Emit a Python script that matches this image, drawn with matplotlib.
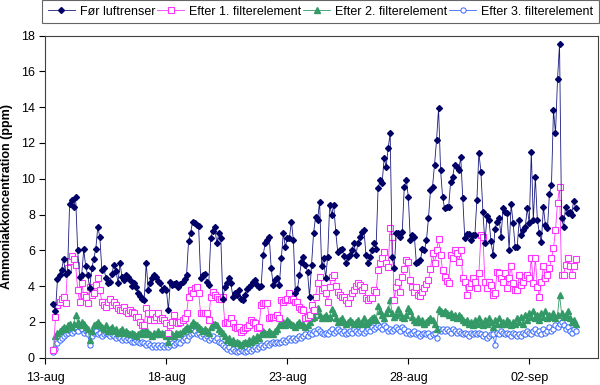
import matplotlib
matplotlib.use("Agg")
import matplotlib.pyplot as plt
import pandas as pd

plt.rcParams['font.family'] = ['Liberation Sans', 'DejaVu Sans']

# time axis: 2-hourly samples from 13 Aug 08:00
start_time = "2007-08-13 08:00"
n_points = 260
times = pd.date_range(start_time, periods=n_points, freq="2h")

series_names = ["Før luftrenser", "Efter 1. filterelement",
                "Efter 2. filterelement", "Efter 3. filterelement"]

foer = [
    3.0, 2.6, 4.4, 4.6, 4.9, 5.5, 4.7, 4.8, 8.6, 8.8,
    8.4, 8.95, 6.0, 4.5, 4.6, 6.05, 5.1, 4.6, 3.9, 5.0,
    5.5, 6.1, 7.3, 6.75, 4.9, 5.0, 4.45, 4.15, 4.25, 4.7,
    5.2, 4.85, 4.2, 5.3, 4.5, 4.35, 4.6, 4.5, 4.35, 4.0,
    4.2, 3.97, 3.6, 3.45, 3.3, 3.2, 5.3, 3.8, 4.15, 4.43,
    4.62, 4.5, 4.3, 4.15, 3.8, 3.9, 3.8, 2.66, 4.25, 4.05,
    4.1, 4.15, 3.97, 4.1, 4.25, 4.4, 4.62, 6.5, 6.95, 7.6,
    7.5, 7.4, 7.35, 4.43, 4.62, 4.7, 4.25, 4.05, 6.67, 7.1,
    7.3, 6.38, 6.95, 6.67, 3.3, 3.97, 4.2, 4.43, 4.15, 3.4,
    3.6, 3.5, 3.8, 3.3, 3.2, 3.5, 3.85, 3.97, 4.05, 4.25,
    4.33, 4.05, 3.97, 4.0, 5.74, 6.38, 6.58, 6.77, 5.0, 4.05,
    4.33, 4.43, 4.05, 5.55, 6.95, 6.2, 6.67, 6.67, 7.6, 6.58,
    3.6, 3.85, 4.6, 5.35, 5.6, 5.16, 4.8, 3.4, 5.16, 6.95,
    7.88, 7.7, 8.72, 5.1, 5.55, 4.43, 5.64, 8.53, 8.0, 8.53,
    7.04, 5.9, 6.0, 6.1, 5.7, 5.27, 5.64, 5.73, 6.0, 6.39,
    5.73, 6.4, 6.76, 7.04, 7.13, 5.73, 5.27, 5.64, 6.0, 6.39,
    6.1, 9.46, 9.93, 9.74, 11.14, 10.67, 11.7, 12.54, 5.64, 5.0,
    6.95, 6.95, 6.76, 7.04, 9.55, 9.93, 8.99, 6.57, 6.85, 6.76,
    5.27, 5.37, 5.46, 6.1, 6.0, 6.57, 7.79, 9.37, 9.55, 10.77,
    12.16, 13.93, 10.48, 8.99, 8.34, 8.43, 8.43, 9.83, 10.11, 10.77,
    10.63, 10.5, 11.2, 8.9, 6.67, 6.9, 6.9, 6.57, 6.85, 6.85,
    8.8, 11.45, 10.39, 8.15, 6.39, 7.9, 7.72, 6.5, 5.76, 7.2,
    7.6, 7.8, 6.77, 8.34, 8.15, 8.06, 6.02, 8.59, 7.5, 6.17,
    6.2, 7.69, 6.85, 7.13, 7.3, 8.34, 7.5, 11.5, 7.69, 10.11,
    7.69, 6.95, 6.48, 8.43, 7.41, 7.22, 9.17, 9.63, 13.84, 12.53,
    15.55, 17.53, 7.78, 7.32, 8.43, 8.06, 8.15, 7.97, 8.77, 8.34,
]

efter1 = [
    0.45, 2.25, 2.95, 3.1, 3.3, 3.4, 3.05, 5.0, 5.4, 5.7,
    5.5, 5.2, 3.8, 3.1, 4.15, 3.5, 3.4, 3.05, 3.95, 3.5,
    3.6, 4.05, 4.45, 3.8, 3.1, 2.95, 2.85, 3.1, 3.3, 2.95,
    3.1, 2.95, 2.8, 2.65, 2.65, 2.85, 2.6, 2.47, 2.66, 2.57,
    2.47, 2.3, 2.25, 2.0, 1.85, 1.83, 2.76, 2.47, 2.1, 2.47,
    2.1, 2.3, 2.47, 2.1, 2.2, 2.1, 1.92, 1.36, 1.83, 2.0,
    2.38, 2.0, 1.92, 2.0, 2.1, 2.2, 2.47, 3.4, 3.78, 3.6,
    3.87, 3.97, 3.6, 2.47, 2.47, 2.47, 2.47, 2.1, 3.4, 3.68,
    3.5, 3.4, 3.3, 3.3, 3.4, 1.92, 2.0, 1.92, 2.2, 1.92,
    1.74, 1.64, 1.74, 1.46, 1.55, 1.65, 1.74, 1.83, 2.1, 2.0,
    1.92, 1.64, 1.74, 2.95, 3.04, 3.04, 3.08, 2.2, 2.29, 2.29,
    2.29, 2.38, 2.2, 3.22, 3.13, 3.2, 3.3, 3.6, 3.22, 3.3,
    3.13, 3.13, 2.85, 2.7, 2.66, 2.2, 2.29, 2.38, 2.95, 2.66,
    3.4, 4.15, 4.52, 3.78, 3.87, 3.6, 3.13, 3.97, 4.5, 4.6,
    4.0, 3.68, 3.5, 3.41, 3.41, 3.22, 3.04, 3.41, 3.6, 3.78,
    4.0, 4.15, 4.06, 3.78, 3.97, 3.32, 3.22, 3.32, 3.32, 3.78,
    3.68, 4.89, 5.27, 5.55, 5.92, 5.27, 5.08, 7.23, 6.76, 3.22,
    3.97, 4.25, 3.68, 4.5, 4.98, 5.46, 5.36, 4.34, 3.97, 3.68,
    3.97, 3.5, 3.45, 3.69, 3.87, 4.1, 4.34, 4.98, 5.83, 5.27,
    6.0, 6.61, 5.73, 4.89, 4.52, 4.3, 4.15, 5.73, 5.55, 6.0,
    5.83, 5.36, 6.0, 4.43, 4.25, 3.5, 3.97, 4.2, 4.43, 4.25,
    3.87, 4.71, 6.86, 6.77, 4.25, 3.87, 4.25, 4.06, 3.5, 3.6,
    4.8, 4.71, 4.43, 4.25, 4.71, 3.9, 4.43, 5.15, 4.15, 3.78,
    3.78, 4.62, 4.06, 4.25, 4.52, 4.62, 4.43, 5.55, 4.15, 5.55,
    3.97, 3.41, 4.25, 5.12, 4.43, 4.62, 5.0, 5.55, 6.11, 7.13,
    8.66, 9.51, 4.62, 4.62, 5.18, 5.55, 5.12, 4.62, 5.12, 5.5,
]

efter2 = [
    0.5, 1.2, 1.4, 1.5, 1.6, 1.7, 1.6, 1.8, 1.9, 1.7,
    1.9, 2.4, 2.0, 1.8, 2.0, 1.9, 1.7, 1.6, 1.0, 1.5,
    1.8, 1.9, 2.0, 1.8, 1.7, 1.6, 1.8, 1.5, 1.6, 1.7,
    1.5, 1.6, 1.4, 1.5, 1.6, 1.4, 1.5, 1.4, 1.3, 1.4,
    1.3, 1.2, 1.3, 1.4, 1.5, 1.3, 1.6, 1.4, 1.3, 1.2,
    1.4, 1.3, 1.5, 1.3, 1.4, 1.3, 1.2, 0.9, 1.2, 1.3,
    1.2, 1.4, 1.3, 1.4, 1.5, 1.6, 1.7, 1.6, 1.8, 2.0,
    1.9, 1.8, 1.7, 1.6, 1.5, 1.6, 1.5, 1.4, 1.7, 1.9,
    1.9, 1.8, 1.6, 1.5, 1.4, 1.2, 1.0, 1.1, 0.9, 1.0,
    0.8, 0.9, 0.8, 0.7, 0.8, 0.9, 0.8, 1.0, 0.9, 1.1,
    1.0, 1.2, 1.1, 1.3, 1.5, 1.4, 1.3, 1.5, 1.4, 1.3,
    1.5, 1.6, 1.8, 1.9, 2.0, 1.8, 2.1, 2.0, 1.9, 1.8,
    1.7, 1.9, 2.0, 1.8, 1.9, 1.7, 1.8, 2.0, 2.2, 2.3,
    2.6, 2.8, 2.4, 2.2, 2.3, 2.4, 2.2, 2.3, 2.7, 2.5,
    2.2, 2.0, 2.1, 2.2, 2.0, 1.9, 2.0, 2.1, 2.0, 1.9,
    2.0, 2.1, 1.9, 2.0, 2.2, 1.9, 2.0, 2.1, 2.2, 2.3,
    2.1, 2.9, 2.6, 2.4, 2.2, 2.5, 2.7, 3.2, 2.5, 2.3,
    2.4, 2.7, 2.5, 2.3, 2.2, 2.4, 2.8, 2.6, 2.3, 2.1,
    2.0, 2.2, 2.0, 2.1, 1.9, 2.0, 2.1, 2.2, 2.1, 1.9,
    1.6, 2.7, 2.6, 2.5, 2.6, 2.5, 2.4, 2.5, 2.3, 2.4,
    2.2, 2.4, 2.3, 2.1, 2.0, 2.1, 1.9, 2.0, 1.8, 2.1,
    1.9, 2.2, 2.0, 1.8, 2.1, 1.9, 2.2, 2.0, 1.7, 2.1,
    1.9, 2.2, 1.9, 2.0, 1.9, 2.1, 2.0, 1.8, 2.0, 1.9,
    2.2, 2.0, 2.3, 1.9, 2.4, 2.1, 2.5, 2.3, 2.6, 2.2,
    2.4, 2.1, 2.5, 2.3, 2.6, 2.2, 2.4, 2.3, 2.5, 2.2,
    2.4, 3.5, 2.5, 2.3, 2.4, 2.6, 2.2, 2.0, 2.1, 1.9,
]

efter3 = [
    0.3, 0.5, 0.8, 1.0, 1.1, 1.2, 1.3, 1.4, 1.5, 1.4,
    1.5, 1.6, 1.5, 1.7, 1.6, 1.4, 1.5, 1.3, 0.7, 1.2,
    1.4, 1.5, 1.3, 1.4, 1.2, 1.3, 1.4, 1.3, 1.2, 1.3,
    1.2, 1.1, 1.2, 1.1, 1.0, 1.1, 1.0, 1.1, 1.0, 0.9,
    0.9, 1.0, 0.9, 0.8, 0.9, 0.8, 0.7, 0.8, 0.7, 0.6,
    0.7, 0.6, 0.7, 0.6, 0.7, 0.6, 0.7, 0.6, 0.7, 0.8,
    0.7, 0.8, 0.9, 0.8, 1.0, 1.1, 1.0, 1.2, 1.3, 1.4,
    1.5, 1.3, 1.4, 1.2, 1.3, 1.1, 1.2, 1.0, 1.1, 1.2,
    1.0, 1.1, 0.9, 0.8, 0.7, 0.6, 0.5, 0.6, 0.4, 0.5,
    0.4, 0.3, 0.4, 0.5, 0.4, 0.3, 0.4, 0.5, 0.4, 0.5,
    0.6, 0.5, 0.6, 0.7, 0.6, 0.7, 0.8, 0.7, 0.8, 0.9,
    0.8, 0.9, 0.8, 0.9, 1.0, 0.9, 1.0, 1.1, 1.0, 1.1,
    1.0, 1.1, 1.2, 1.1, 1.2, 1.3, 1.2, 1.4, 1.3, 1.5,
    1.4, 1.6, 1.5, 1.4, 1.3, 1.4, 1.3, 1.5, 1.6, 1.4,
    1.5, 1.6, 1.5, 1.4, 1.5, 1.3, 1.4, 1.5, 1.4, 1.6,
    1.5, 1.4, 1.5, 1.6, 1.4, 1.5, 1.6, 1.5, 1.7, 1.6,
    1.7, 1.8, 1.7, 1.6, 1.8, 1.7, 1.5, 1.6, 1.5, 1.6,
    1.7, 1.6, 1.5, 1.7, 1.6, 1.4, 1.5, 1.3, 1.4, 1.5,
    1.3, 1.4, 1.2, 1.3, 1.4, 1.3, 1.4, 1.2, 1.3, 1.4,
    1.1, 1.6, 1.5, 1.6, 1.5, 1.6, 1.5, 1.4, 1.6, 1.5,
    1.4, 1.5, 1.4, 1.3, 1.4, 1.3, 1.2, 1.4, 1.3, 1.4,
    1.3, 1.4, 1.3, 1.2, 1.3, 1.1, 1.2, 1.3, 1.3, 0.7,
    1.4, 1.3, 1.5, 1.4, 1.3, 1.4, 1.3, 1.2, 1.4, 1.3,
    1.2, 1.3, 1.2, 1.4, 1.3, 1.5, 1.4, 1.3, 1.5, 1.6,
    1.4, 1.5, 1.3, 1.6, 1.4, 1.5, 1.7, 1.5, 1.6, 1.8,
    1.7, 1.9, 2.0, 1.8, 1.6, 1.7, 1.5, 1.4, 1.6, 1.5,
]

tick_dates = ["2007-08-13", "2007-08-18", "2007-08-23", "2007-08-28", "2007-09-02"]
tick_labels = ["13-aug", "18-aug", "23-aug", "28-aug", "02-sep"]
y_ticks = [0, 2, 4, 6, 8, 10, 12, 14, 16, 18]
y_label = "Ammoniakkoncentration (ppm)"

fig = plt.figure(figsize=(6.0, 3.85), dpi=100)
ax = fig.add_axes([45.4 / 600, 1 - 357.7 / 385, (598 - 45.4) / 600, (357.7 - 35.5) / 385])

ax.plot(times, foer, color="#1A1A80", lw=0.6, marker="D", ms=3.0,
        mfc="#000066", mec="#000066", label=series_names[0], zorder=5)
ax.plot(times, efter1, color="#FF33FF", lw=0.6, marker="s", ms=4.0,
        mfc="white", mec="#FF33FF", mew=0.8, label=series_names[1], zorder=4)
ax.plot(times, efter2, color="#339966", lw=0.6, marker="^", ms=4.0,
        mfc="#339966", mec="#339966", label=series_names[2], zorder=3)
ax.plot(times, efter3, color="#3366FF", lw=0.6, marker="o", ms=3.8,
        mfc="white", mec="#3366FF", mew=0.7, label=series_names[3], zorder=2)

x0 = pd.Timestamp("2007-08-13 00:00")
ax.set_xlim(x0, x0 + pd.Timedelta(days=22.84))
ax.set_ylim(0, 18)
ax.set_yticks(y_ticks)
ax.set_xticks(pd.to_datetime(tick_dates))
ax.set_xticklabels(tick_labels)
ax.tick_params(direction="out", length=4, width=0.8, labelsize=9, colors="black")
ax.tick_params(axis="x", pad=6)
for s in ax.spines.values():
    s.set_color("#404040")
    s.set_linewidth(0.8)
ax.set_ylabel(y_label, fontsize=9, fontweight="bold", labelpad=6)

leg = fig.legend(loc="upper left", bbox_to_anchor=(42 / 600, 1 - 30 / 385, 557 / 600, 30 / 385),
                 mode="expand", ncol=4, fontsize=9, frameon=True, fancybox=False,
                 edgecolor="#404040", handlelength=2.2, handletextpad=0.4,
                 columnspacing=0.8, borderpad=0.45, borderaxespad=0.0)
leg.get_frame().set_linewidth(0.8)

fig.savefig("out.png", dpi=100)
